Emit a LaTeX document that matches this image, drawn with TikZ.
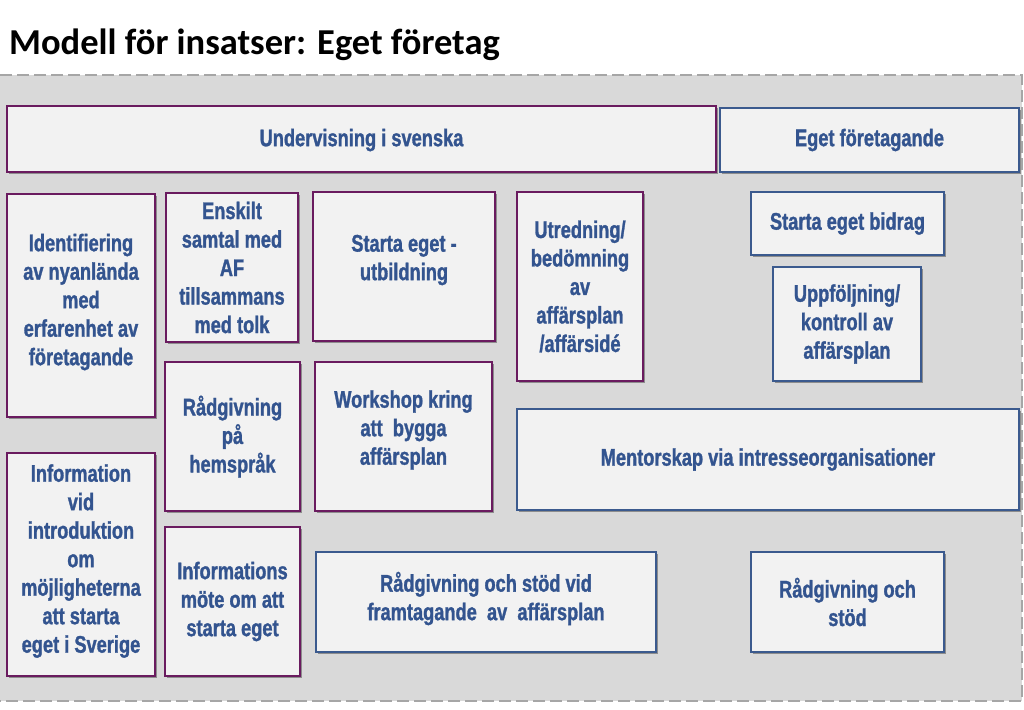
\documentclass[tikz,border=0pt]{standalone}
\usepackage{fontspec}
\setmainfont{Liberation Sans}
\newfontfamily\boxfont[FakeStretch=0.76, BoldFeatures={FakeBold=1.2}]{Liberation Sans}
\newfontfamily\titlefont{Carlito}
\usetikzlibrary{shadows}

\definecolor{panelgray}{HTML}{D9D9D9}
\definecolor{dashgray}{HTML}{A6A6A6}
\definecolor{boxfill}{HTML}{F2F2F2}
\definecolor{plum}{HTML}{6A1B5F}
\definecolor{steel}{HTML}{3B5A8E}
\definecolor{inktext}{HTML}{33548F}

\tikzset{
  insats/.style={draw, line width=1.8pt, fill=boxfill, align=center,
    inner sep=2pt, text=inktext,
    font=\boxfont\bfseries\fontsize{24}{28.5}\selectfont,
    drop shadow={shadow xshift=1.5pt, shadow yshift=-1.5pt, opacity=0.35, fill=black}},
  purplebox/.style={insats, draw=plum},
  bluebox/.style={insats, draw=steel}
}

\begin{document}
\begin{tikzpicture}[x=1pt,y=-1pt]
  \useasboundingbox (0,0) rectangle (1024,709);
  % panel and title
  \fill[white] (0,0) rectangle (1024,709);
  \fill[panelgray] (0,75) rectangle (1022,701);
  \draw[dashgray, line width=1.5pt, dash pattern=on 12pt off 5pt]
    (0,75) -- (1022,75) -- (1022,701) -- (0,701);
  \node[anchor=base west, inner sep=0pt, font=\titlefont\bfseries\fontsize{36.5}{40}\selectfont]
    (title) at (9,55) {Modell för insatser: Eget företag};

  % top row
  \node[purplebox, minimum width=709, minimum height=66] (svenska) at (361.5,139) {Undervisning i svenska\\[-25.5pt]};
  \node[bluebox, minimum width=299, minimum height=64] (eget) at (869.5,140) {Eget företagande};

  % first column
  \node[purplebox, minimum width=148, minimum height=223] (ident) at (81,305.5)
    {Identifiering\\av nyanlända\\med\\erfarenhet av\\företagande\\[-16.5pt]};
  \node[purplebox, minimum width=148, minimum height=223] (info) at (81,564.5)
    {Information\\vid\\introduktion\\om\\möjligheterna\\att starta\\eget i Sverige\\[-16.5pt]};

  % second column
  \node[purplebox, minimum width=132, minimum height=149] (samtal) at (232,267.5)
    {Enskilt\\samtal med\\AF\\tillsammans\\med tolk};
  \node[purplebox, minimum width=135, minimum height=149] (hemsprak) at (232.5,436.5)
    {Rådgivning\\på\\hemspråk};
  \node[purplebox, minimum width=135, minimum height=149] (mote) at (232.5,601.5)
    {Informations\\möte om att\\starta eget};

  % third column
  \node[purplebox, minimum width=182, minimum height=149] (utbildning) at (404,266.5)
    {Starta eget -\\utbildning\\[-10.5pt]};
  \node[purplebox, minimum width=177, minimum height=149] (workshop) at (403.5,436.5)
    {Workshop kring\\att\ \ bygga\\affärsplan\\[-10.5pt]};
  \node[bluebox, minimum width=340, minimum height=100] (stodvid) at (486,602)
    {Rådgivning och stöd vid\\framtagande\ \ av\ \ affärsplan\\[-16.5pt]};

  % fourth column
  \node[purplebox, minimum width=126, minimum height=189] (utredning) at (580,286.5)
    {Utredning/\\bedömning\\av\\affärsplan\\/affärsidé};
  \node[bluebox, minimum width=502, minimum height=101] (mentor) at (768,459.5)
    {Mentorskap\ via intresseorganisationer};

  % right column
  \node[bluebox, minimum width=193, minimum height=63] (bidrag) at (847.5,223.5) {Starta\ eget bidrag};
  \node[bluebox, minimum width=148, minimum height=114] (uppfolj) at (847,324)
    {Uppföljning/\\kontroll av\\affärsplan};
  \node[bluebox, minimum width=193, minimum height=100] (stod) at (847.5,602)
    {Rådgivning och\\stöd};
\end{tikzpicture}
\end{document}
